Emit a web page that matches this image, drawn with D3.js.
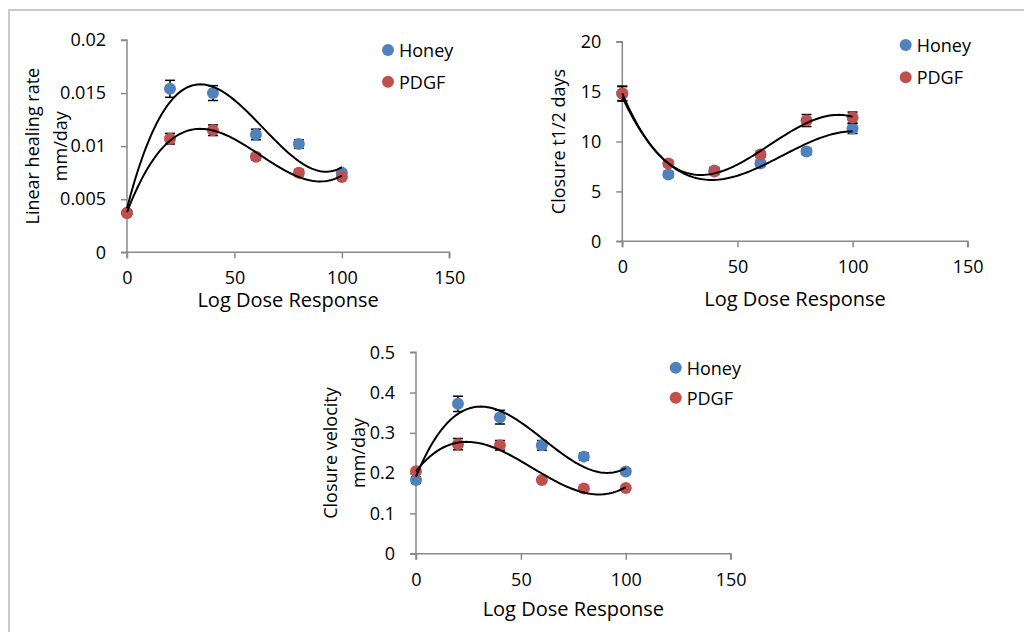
<!DOCTYPE html>
<html>
<head>
<meta charset="utf-8">
<script src="https://cdn.jsdelivr.net/npm/d3@7"></script>
<style>
  html, body { margin: 0; padding: 0; background: #fff; }
  svg { display: block; font-family: "Open Sans", sans-serif; }
</style>
</head>
<body>
<div id="chart"></div>
<script>
// doses shared by all three panels
const doses = [0, 20, 40, 60, 80, 100];
const xTicks = [0, 50, 100, 150];
const seriesNames = ["Honey", "PDGF"];
const seriesColors = ["#4F81BD", "#C0504D"];

// panel 1: linear healing rate
const honeyRate = [0.0037, 0.0154, 0.0150, 0.0111, 0.0102, 0.0075];
const honeyRateErr = [0.0002, 0.0008, 0.0007, 0.0005, 0.0004, 0.0002];
const pdgfRate = [0.0037, 0.0107, 0.0115, 0.0090, 0.0075, 0.0071];
const pdgfRateErr = [0.0002, 0.0005, 0.0005, 0.0003, 0.0003, 0.0002];
const rateTicks = [0, 0.005, 0.01, 0.015, 0.02];
const rateTickLabels = ["0", "0.005", "0.01", "0.015", "0.02"];

// panel 2: closure t1/2
const honeyHalf = [14.8, 6.7, 7.1, 7.8, 9.0, 11.3];
const honeyHalfErr = [0.7, 0.3, 0.3, 0.3, 0.3, 0.5];
const pdgfHalf = [14.8, 7.8, 7.0, 8.7, 12.1, 12.4];
const pdgfHalfErr = [0.75, 0.3, 0.3, 0.3, 0.6, 0.55];
const halfTicks = [0, 5, 10, 15, 20];
const halfTickLabels = ["0", "5", "10", "15", "20"];

// panel 3: closure velocity
const honeyVel = [0.183, 0.372, 0.339, 0.269, 0.241, 0.204];
const honeyVelErr = [0.008, 0.019, 0.017, 0.012, 0.009, 0.007];
const pdgfVel = [0.205, 0.272, 0.269, 0.183, 0.162, 0.163];
const pdgfVelErr = [0.006, 0.014, 0.012, 0.006, 0.005, 0.005];
const velTicks = [0, 0.1, 0.2, 0.3, 0.4, 0.5];
const velTickLabels = ["0", "0.1", "0.2", "0.3", "0.4", "0.5"];

const width = 1024, height = 632;
const axisColor = "#898989";

const svg = d3.select("#chart").append("svg")
    .attr("width", width)
    .attr("height", height);

// thin frame (left and top only show)
svg.append("path")
    .attr("d", `M9,${height} L9,10 L${width},10`)
    .attr("fill", "none")
    .attr("stroke", "#c9c9c9")
    .attr("stroke-width", 2);

// least squares cubic, like the excel polynomial trendline
function cubicFit(xs, ys) {
    const n = 4;
    const A = Array.from({length: n}, () => new Array(n + 1).fill(0));
    xs.forEach((xv, k) => {
        const t = xv / 100;
        for (let i = 0; i < n; i++) {
            for (let j = 0; j < n; j++) A[i][j] += Math.pow(t, i + j);
            A[i][n] += ys[k] * Math.pow(t, i);
        }
    });
    for (let c = 0; c < n; c++) {
        let p = c;
        for (let r = c + 1; r < n; r++) if (Math.abs(A[r][c]) > Math.abs(A[p][c])) p = r;
        [A[c], A[p]] = [A[p], A[c]];
        for (let r = 0; r < n; r++) {
            if (r === c) continue;
            const f = A[r][c] / A[c][c];
            for (let j = c; j <= n; j++) A[r][j] -= f * A[c][j];
        }
    }
    const coef = A.map((row, i) => row[n] / row[i]);
    return xv => {
        const t = xv / 100;
        return coef[0] + coef[1] * t + coef[2] * t * t + coef[3] * t * t * t;
    };
}

function drawPanel(cfg) {
    const g = svg.append("g");
    const x = d3.scaleLinear().domain([0, 150]).range([cfg.x0, cfg.x1]);
    const y = d3.scaleLinear().domain([0, cfg.yMax]).range([cfg.yBot, cfg.yTop]);

    // axes
    const yAxis = g.append("g")
        .attr("transform", `translate(${cfg.x0},0)`)
        .call(d3.axisLeft(y).tickValues(cfg.yTicks).tickFormat((d, i) => cfg.yLabels[i]).tickSize(6).tickPadding(15));
    const xAxis = g.append("g")
        .attr("transform", `translate(0,${cfg.yBot})`)
        .call(d3.axisBottom(x).tickValues(xTicks).tickSize(6).tickPadding(15));
    [yAxis, xAxis].forEach(ax => {
        ax.select(".domain").attr("stroke", axisColor).attr("stroke-width", 1.5);
        ax.selectAll(".tick line").attr("stroke", axisColor).attr("stroke-width", 1.5);
        ax.selectAll(".tick text").attr("fill", "#000").attr("font-size", 18)
            .attr("font-family", "Open Sans");
    });
    yAxis.select(".domain").attr("d", `M-6,${cfg.yTop}H0V${cfg.yBot}H-6`);
    xAxis.select(".domain").attr("d", `M${cfg.x0},6V0H${cfg.x1}V6`);
    xAxis.selectAll(".tick text").attr("dy", null).attr("y", 32);

    // axis titles
    g.append("text")
        .attr("x", (cfg.x0 + cfg.x1) / 2)
        .attr("y", cfg.xTitleY)
        .attr("text-anchor", "middle")
        .attr("font-size", 20)
        .text("Log Dose Response");
    cfg.yTitle.forEach((line, i) => {
        const cx = cfg.yTitleX[i], cy = (cfg.yTop + cfg.yBot) / 2;
        g.append("text")
            .attr("transform", `translate(${cx},${cy}) rotate(-90)`)
            .attr("text-anchor", "middle")
            .attr("dominant-baseline", "central")
            .attr("font-size", 18)
            .text(line);
    });

    const fine = d3.range(0, 100.5, 1);
    cfg.series.forEach((s, si) => {
        const pts = doses.map((d, i) => ({x: d, v: s.values[i], e: s.errs[i]}));

        // error bars
        const eb = g.append("g").attr("stroke", "#000").attr("stroke-width", 1.5);
        pts.forEach(p => {
            const y1 = y(p.v + p.e), y2 = y(p.v - p.e), cx = x(p.x);
            eb.append("line").attr("x1", cx).attr("x2", cx).attr("y1", y1).attr("y2", y2);
            eb.append("line").attr("x1", cx - 5).attr("x2", cx + 5).attr("y1", y1).attr("y2", y1);
            eb.append("line").attr("x1", cx - 5).attr("x2", cx + 5).attr("y1", y2).attr("y2", y2);
        });

        g.append("g").selectAll("circle")
            .data(pts)
            .join("circle")
            .attr("cx", d => x(d.x))
            .attr("cy", d => y(d.v))
            .attr("r", 6)
            .attr("fill", seriesColors[si]);
    });

    // trendlines on top
    cfg.series.forEach(s => {
        const f = cubicFit(doses, s.values);
        g.append("path")
            .datum(fine)
            .attr("fill", "none")
            .attr("stroke", "#000")
            .attr("stroke-width", 2)
            .attr("d", d3.line().x(d => x(d)).y(d => y(f(d))).curve(d3.curveLinear));
    });

    // legend
    seriesNames.forEach((name, i) => {
        const ly = cfg.legendY[i];
        g.append("circle")
            .attr("cx", cfg.legendX)
            .attr("cy", ly)
            .attr("r", 6)
            .attr("fill", seriesColors[i]);
        g.append("text")
            .attr("x", cfg.legendX + 11)
            .attr("y", ly)
            .attr("dominant-baseline", "central")
            .attr("font-size", 18)
            .text(name);
    });
}

drawPanel({
    x0: 127, x1: 449.3, yTop: 40, yBot: 252.3, yMax: 0.02,
    yTicks: rateTicks, yLabels: rateTickLabels,
    yTitle: ["Linear healing rate", "mm/day"], yTitleX: [31.7, 60],
    xTitleY: 307,
    series: [{values: honeyRate, errs: honeyRateErr}, {values: pdgfRate, errs: pdgfRateErr}],
    legendX: 388, legendY: [50, 81.7]
});

drawPanel({
    x0: 622.3, x1: 967.7, yTop: 41.7, yBot: 241.3, yMax: 20,
    yTicks: halfTicks, yLabels: halfTickLabels,
    yTitle: ["Closure t1/2 days"], yTitleX: [558],
    xTitleY: 306,
    series: [{values: honeyHalf, errs: honeyHalfErr}, {values: pdgfHalf, errs: pdgfHalfErr}],
    legendX: 905.7, legendY: [45, 77.3]
});

drawPanel({
    x0: 416, x1: 730.7, yTop: 352.3, yBot: 553.7, yMax: 0.5,
    yTicks: velTicks, yLabels: velTickLabels,
    yTitle: ["Closure velocity", "mm/day"], yTitleX: [330, 358.3],
    xTitleY: 616,
    series: [{values: honeyVel, errs: honeyVelErr}, {values: pdgfVel, errs: pdgfVelErr}],
    legendX: 675.7, legendY: [367.7, 397.7]
});
</script>
</body>
</html>
